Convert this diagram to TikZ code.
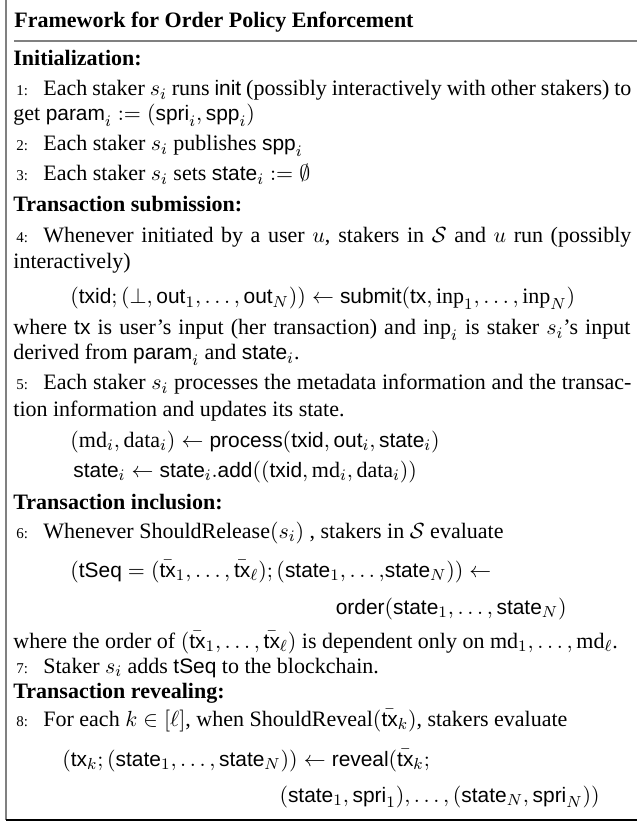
\documentclass[tikz,border=0pt]{standalone}
\usepackage{amsmath,amssymb}
\usepackage{fontspec}
\setmainfont{Liberation Serif}
\setsansfont[Scale=0.95]{Liberation Sans}
\newcommand{\sv}[1]{\mathsf{#1}}
\newcommand{\rv}[1]{\mathrm{#1}}
\newcommand{\jline}[2]{\makebox[#1][s]{#2}}
\tikzset{
  txt/.style={anchor=base west,inner sep=0pt,font=\fontsize{11}{13}\selectfont},
  head/.style={txt,font=\fontsize{11}{13}\selectfont\bfseries},
  num/.style={anchor=base west,inner sep=0pt,font=\fontsize{7.5}{9}\selectfont},
  disp/.style={txt},
  rdisp/.style={anchor=base east,inner sep=0pt,font=\fontsize{11}{13}\selectfont},
  frame/.style={draw=black!50,line width=.75pt}
}
\begin{document}
\begin{tikzpicture}[x=.5pt,y=-.5pt]
  \useasboundingbox (0,0) rectangle (637,822);
  % box
  \draw[frame] (6,0)--(6,820);
  \draw[line width=.6pt] (5.6,820)--(637,820);
  \draw[frame,line width=.65pt] (14,41)--(637,41);
  \node[head] (title) at (14,28) {Framework for Order Policy Enforcement};
  % line numbers
  \foreach \n/\y in {1/96,2/151,3/181,4/243,5/390,6/538,7/673,8/726}{%
    \node[num] (n\n) at (16,\y) {\n:};
  }
  % initialization
  \node[head] (init) at (13,66) {Initialization:};
  \node[txt] (l1a) at (43,96) {\jline{294pt}{Each staker $s_i$ runs \textsf{init} (possibly interactively with other stakers) to}};
  \node[txt] (l1b) at (13,121) {get $\sv{param}_i := (\sv{spri}_i, \sv{spp}_i)$};
  \node[txt] (l2) at (43,151) {Each staker $s_i$ publishes $\sv{spp}_i$};
  \node[txt] (l3) at (43,181) {Each staker $s_i$ sets $\sv{state}_i := \emptyset$};
  % submission
  \node[head] (sub) at (13,212) {Transaction submission:};
  \node[txt] (l4a) at (43,243) {\jline{294pt}{Whenever initiated by a user $u$, stakers in $\mathcal{S}$ and $u$ run (possibly}};
  \node[txt] (l4b) at (13,269) {interactively)};
  \node[disp] (l4c) at (70,304) {$(\sv{txid}; (\bot, \sv{out}_1, \ldots, \sv{out}_N)) \leftarrow \sv{submit}(\sv{tx}, \rv{inp}_1, \ldots, \rv{inp}_N)$};
  \node[txt] (l4d) at (13,335) {\jline{308.5pt}{where \textsf{tx} is user's input (her transaction) and $\rv{inp}_i$ is staker $s_i$'s input}};
  \node[txt] (l4e) at (13,360) {derived from $\sv{param}_i$ and $\sv{state}_i$.};
  \node[txt] (l5a) at (43,390) {\jline{294pt}{Each staker $s_i$ processes the metadata information and the transac-}};
  \node[txt] (l5b) at (13,416) {tion information and updates its state.};
  \node[disp] (l5c) at (70,447) {$(\rv{md}_i, \rv{data}_i) \leftarrow \sv{process}(\sv{txid}, \sv{out}_i, \sv{state}_i)$};
  \node[disp] (l5d) at (73,477) {$\sv{state}_i \leftarrow \sv{state}_i.\sv{add}((\sv{txid}, \rv{md}_i, \rv{data}_i))$};
  % inclusion
  \node[head] (inc) at (13,509) {Transaction inclusion:};
  \node[txt] (l6a) at (43,538) {Whenever ShouldRelease$(s_i)$ , stakers in $\mathcal{S}$ evaluate};
  \node[disp] (l6b) at (70,577) {$(\sv{tSeq} = (\bar{\sv{tx}}_1, \ldots, \bar{\sv{tx}}_\ell); (\sv{state}_1, \ldots,\!\sv{state}_N)) \leftarrow$};
  \node[rdisp] (l6c) at (567,614) {$\sv{order}(\sv{state}_1, \ldots, \sv{state}_N)$};
  \node[txt] (l6d) at (13,648) {where the order of $(\bar{\sv{tx}}_1, \ldots, \bar{\sv{tx}}_\ell)$ is dependent only on $\rv{md}_1, \ldots, \rv{md}_\ell$.};
  \node[txt] (l7) at (43,673) {Staker $s_i$ adds \textsf{tSeq} to the blockchain.};
  % revealing
  \node[head] (rev) at (13,698) {Transaction revealing:};
  \node[txt] (l8a) at (43,726) {For each $k \in [\ell]$, when ShouldReveal$(\bar{\sv{tx}}_k)$, stakers evaluate};
  \node[disp] (l8b) at (62,766) {$(\sv{tx}_k; (\sv{state}_1, \ldots, \sv{state}_N)) \leftarrow \sv{reveal}(\bar{\sv{tx}}_k;$};
  \node[rdisp] (l8c) at (600,802) {$(\sv{state}_1, \sv{spri}_1), \ldots, (\sv{state}_N, \sv{spri}_N))$};
\end{tikzpicture}
\end{document}
